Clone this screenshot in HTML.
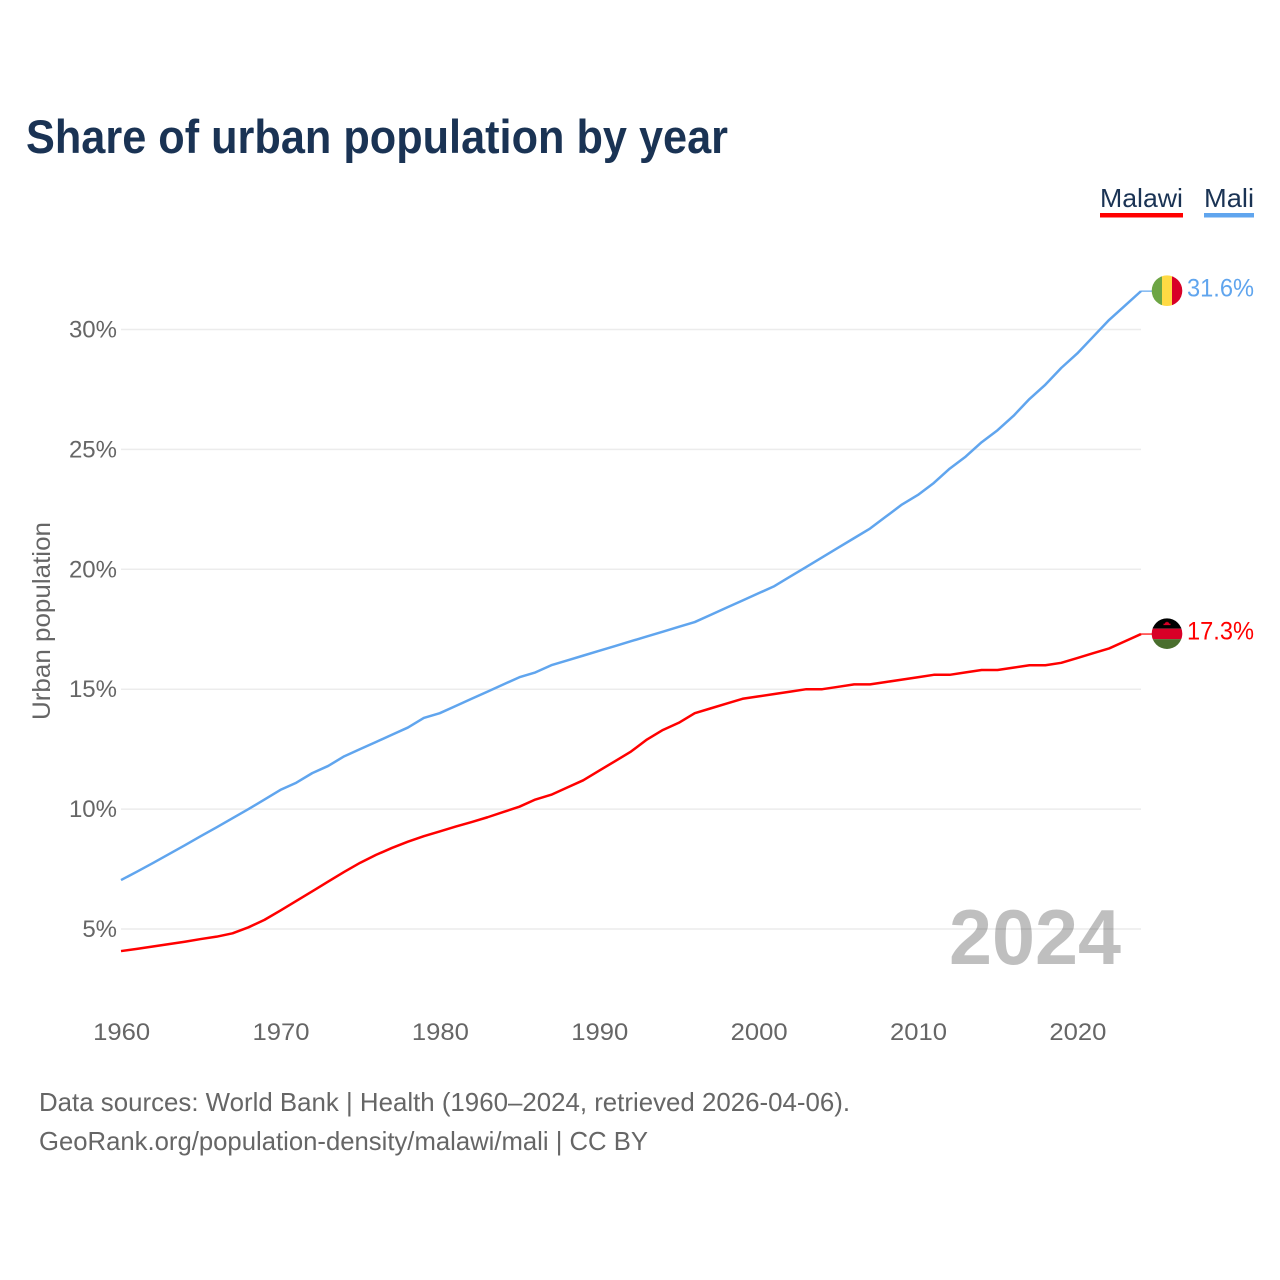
<!DOCTYPE html>
<html lang="en">
<head>
<meta charset="utf-8">
<title>Share of urban population by year</title>
<style>
html,body{margin:0;padding:0;background:#fff;width:1280px;height:1280px;overflow:hidden}
svg{display:block}
text{font-family:"Liberation Sans",sans-serif}
</style>
</head>
<body>
<svg id="chart" xmlns="http://www.w3.org/2000/svg" width="1280" height="1280" viewBox="0 0 1280 1280">
  <rect x="0" y="0" width="1280" height="1280" fill="#fff"/>
  <text x="26" y="153" font-size="47" font-weight="700" fill="#1a3354" textLength="702" lengthAdjust="spacingAndGlyphs">Share of urban population by year</text>

  <g>
    <text x="1100" y="207" font-size="26" fill="#1a3354" textLength="83" lengthAdjust="spacingAndGlyphs">Malawi</text>
    <rect x="1100" y="213" width="83" height="4.5" fill="#ff0000"/>
  </g>
  <g>
    <text x="1204" y="207" font-size="26" fill="#1a3354" textLength="50" lengthAdjust="spacingAndGlyphs">Mali</text>
    <rect x="1204" y="213" width="50" height="4.5" fill="#60a5ee"/>
  </g>

  <g id="grid"></g>
  <g id="yticks"></g>
  <g id="xticks"></g>

  <text transform="translate(50,621) rotate(-90)" text-anchor="middle" font-size="25" fill="#666" textLength="198" lengthAdjust="spacingAndGlyphs">Urban population</text>

  <text x="949" y="964" font-size="78" font-weight="700" fill="#000" fill-opacity="0.25" textLength="172" lengthAdjust="spacingAndGlyphs">2024</text>

  <g id="series"></g>

  <defs>
    <clipPath id="clip-mali"><circle id="clip-mali-circle" r="15.3"/></clipPath>
    <clipPath id="clip-malawi"><circle id="clip-malawi-circle" r="15.3"/></clipPath>
  </defs>
  <g id="flag-mali" clip-path="url(#clip-mali)">
    <rect x="-16" y="-16" width="11" height="32" fill="#6da544"/>
    <rect x="-5" y="-16" width="10" height="32" fill="#ffda44"/>
    <rect x="5" y="-16" width="11" height="32" fill="#d80027"/>
  </g>
  <g id="flag-malawi" clip-path="url(#clip-malawi)">
    <rect x="-16" y="-16" width="32" height="11" fill="#000"/>
    <rect x="-16" y="-5" width="32" height="10.5" fill="#d80027"/>
    <rect x="-16" y="5.5" width="32" height="11" fill="#496e2d"/>
    <path d="M-3.5 -8.5 h7 v-1.5 h-1.5 v-1.2 h-1 l-1 -1 l-1 1 h-1 v1.2 h-1.5 z" fill="#d80027"/>
  </g>
  <text id="value-mali" x="1187" font-size="25" fill="#60a5ee" textLength="67" lengthAdjust="spacingAndGlyphs"></text>
  <text id="value-malawi" x="1187" font-size="25" fill="#ff0000" textLength="67" lengthAdjust="spacingAndGlyphs"></text>

  <text x="39" y="1111" font-size="26" fill="#666" textLength="811" lengthAdjust="spacingAndGlyphs">Data sources: World Bank | Health (1960–2024, retrieved 2026-04-06).</text>
  <text x="39" y="1150" font-size="26" fill="#666" textLength="609" lengthAdjust="spacingAndGlyphs">GeoRank.org/population-density/malawi/mali | CC BY</text>
</svg>
<script>
const years = [1960,1961,1962,1963,1964,1965,1966,1967,1968,1969,1970,1971,1972,1973,1974,1975,1976,1977,1978,1979,1980,1981,1982,1983,1984,1985,1986,1987,1988,1989,1990,1991,1992,1993,1994,1995,1996,1997,1998,1999,2000,2001,2002,2003,2004,2005,2006,2007,2008,2009,2010,2011,2012,2013,2014,2015,2016,2017,2018,2019,2020,2021,2022,2023,2024];
const maliValues = [7.04,7.39,7.75,8.12,8.49,8.87,9.24,9.62,10.0,10.4,10.8,11.1,11.5,11.8,12.2,12.5,12.8,13.1,13.4,13.8,14.0,14.3,14.6,14.9,15.2,15.5,15.7,16.0,16.2,16.4,16.6,16.8,17.0,17.2,17.4,17.6,17.8,18.1,18.4,18.7,19.0,19.3,19.7,20.1,20.5,20.9,21.3,21.7,22.2,22.7,23.1,23.6,24.2,24.7,25.3,25.8,26.4,27.1,27.7,28.4,29.0,29.7,30.4,31.0,31.6];
const malawiValues = [4.08,4.17,4.27,4.37,4.47,4.58,4.68,4.82,5.07,5.38,5.77,6.17,6.57,6.98,7.38,7.76,8.09,8.38,8.64,8.87,9.07,9.27,9.46,9.66,9.88,10.1,10.4,10.6,10.9,11.2,11.6,12.0,12.4,12.9,13.3,13.6,14.0,14.2,14.4,14.6,14.7,14.8,14.9,15.0,15.0,15.1,15.2,15.2,15.3,15.4,15.5,15.6,15.6,15.7,15.8,15.8,15.9,16.0,16.0,16.1,16.3,16.5,16.7,17.0,17.3];
const yTickValues = [5,10,15,20,25,30];
const yTickLabels = ["5%","10%","15%","20%","25%","30%"];
const xTickValues = [1960,1970,1980,1990,2000,2010,2020];
const xTickLabels = ["1960","1970","1980","1990","2000","2010","2020"];

const NS = "http://www.w3.org/2000/svg";
function xScale(year) { return 121 + (year - 1960) * (1141 - 121) / 64; }
function yScale(value) { return 929 - (value - 5) * (929 - 329.5) / 25; }

function make(tag, attrs, parent) {
  const el = document.createElementNS(NS, tag);
  for (const k in attrs) el.setAttribute(k, attrs[k]);
  parent.appendChild(el);
  return el;
}

const gridGroup = document.getElementById("grid");
const yTickGroup = document.getElementById("yticks");
yTickValues.forEach(function (v, i) {
  const y = yScale(v);
  const line = make("line", {x1: 121, x2: 1141, y1: y, y2: y, stroke: "#ececec", "stroke-width": 1.5}, gridGroup);
  
  
  const label = make("text", {x: 117, y: y + 8, "text-anchor": "end", "font-size": 24, fill: "#666"}, yTickGroup);
  
  
  label.textContent = yTickLabels[i];
});

const xTickGroup = document.getElementById("xticks");
xTickValues.forEach(function (v, i) {
  const label = make("text", {x: xScale(v) + 0.7, y: 1040, "text-anchor": "middle", "font-size": 24, fill: "#666", textLength: 57, lengthAdjust: "spacingAndGlyphs"}, xTickGroup);
  
  
  label.textContent = xTickLabels[i];
});

const seriesGroup = document.getElementById("series");
function drawSeries(values, color, name) {
  const pts = values.map(function (v, i) { return xScale(years[i]).toFixed(2) + "," + yScale(v).toFixed(2); });
  const line = make("polyline", {points: pts.join(" "), fill: "none", stroke: color, "stroke-width": 2.5, "stroke-linejoin": "round"}, seriesGroup);
  
  
  const lastY = yScale(values[values.length - 1]);
  const lead = make("line", {x1: xScale(years[years.length - 1]), x2: 1153, y1: lastY, y2: lastY, stroke: color, "stroke-width": 1.2}, seriesGroup);
  
  
  return lastY;
}
const maliEndY = drawSeries(maliValues, "#60a5ee", "line-mali");
const malawiEndY = drawSeries(malawiValues, "#ff0000", "line-malawi");

function placeEnd(flagId, clipId, valueId, endY, values) {
  document.getElementById(flagId).setAttribute("transform", "translate(1167," + (endY - 0.4) + ")");
  const c = document.getElementById(clipId);
  c.setAttribute("cx", 0);
  c.setAttribute("cy", 0);
  const t = document.getElementById(valueId);
  t.setAttribute("y", endY + 5.5);
  t.textContent = values[values.length - 1].toFixed(1) + "%";
}
placeEnd("flag-mali", "clip-mali-circle", "value-mali", maliEndY, maliValues);
placeEnd("flag-malawi", "clip-malawi-circle", "value-malawi", malawiEndY, malawiValues);
</script>
</body>
</html>
